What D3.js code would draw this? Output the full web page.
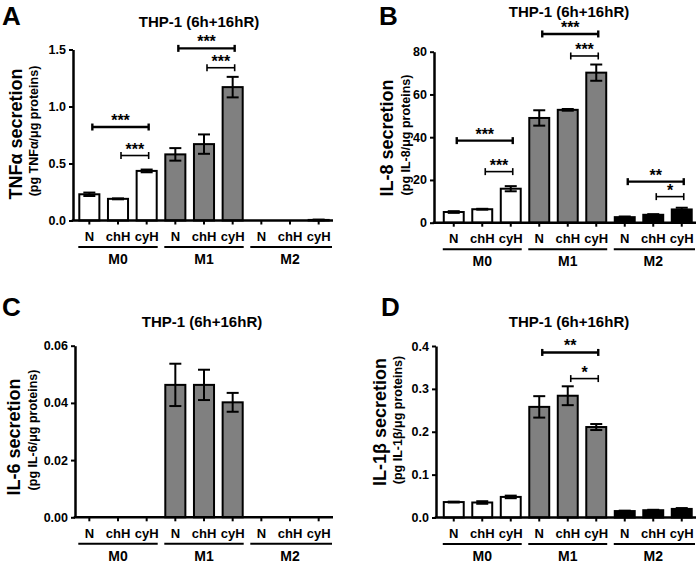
<!DOCTYPE html>
<html><head><meta charset="utf-8">
<script src="https://cdn.jsdelivr.net/npm/d3@7/dist/d3.min.js"></script>
<style>
body{margin:0;background:#fff}
text{font-family:"Liberation Sans",Arial,Helvetica,sans-serif;font-weight:bold;fill:#000}
</style>
</head><body><script>
// ---------- data ----------
const categories = ["N", "chH", "cyH"];
const groups = ["M0", "M1", "M2"];
const groupFill = ["#ffffff", "#808080", "#000000"];
const title = "THP-1 (6h+16hR)";

const tnfValues = [0.23, 0.19, 0.435, 0.58, 0.67, 1.17, 0, 0, 0.005];
const tnfErrors = [0.015, 0.004, 0.012, 0.055, 0.085, 0.09, 0, 0, 0.003];
const tnfTicks = [0, 0.5, 1.0, 1.5];
const tnfTickLabels = ["0.0", "0.5", "1.0", "1.5"];
const tnfSig = [
  {from: 0, to: 2, y: 0.82, label: "***"},
  {from: 1, to: 2, y: 0.57, label: "***"},
  {from: 3, to: 5, y: 1.51, label: "***"},
  {from: 4, to: 5, y: 1.34, label: "***"}
];

const il8Values = [5.0, 6.3, 15.9, 49, 52.8, 70.2, 2.6, 3.7, 6.2];
const il8Errors = [0.4, 0.2, 1.2, 3.6, 0.4, 3.8, 0.3, 0.3, 0.8];
const il8Ticks = [0, 20, 40, 60, 80];
const il8TickLabels = ["0", "20", "40", "60", "80"];
const il8Sig = [
  {from: 0, to: 2, y: 38.4, label: "***"},
  {from: 1, to: 2, y: 23.9, label: "***"},
  {from: 3, to: 5, y: 88.3, label: "***"},
  {from: 4, to: 5, y: 78, label: "***"},
  {from: 6, to: 8, y: 19.2, label: "**"},
  {from: 7, to: 8, y: 12.2, label: "*"}
];

const il6Values = [0, 0, 0, 0.0463, 0.0463, 0.0402, 0, 0, 0];
const il6Errors = [0, 0, 0, 0.0074, 0.0053, 0.0033, 0, 0, 0];
const il6Ticks = [0, 0.02, 0.04, 0.06];
const il6TickLabels = ["0.00", "0.02", "0.04", "0.06"];
const il6Sig = [];

const il1bValues = [0.036, 0.035, 0.048, 0.258, 0.284, 0.211, 0.015, 0.017, 0.02];
const il1bErrors = [0.001, 0.003, 0.003, 0.025, 0.022, 0.007, 0.001, 0.001, 0.002];
const il1bTicks = [0, 0.1, 0.2, 0.3, 0.4];
const il1bTickLabels = ["0.0", "0.1", "0.2", "0.3", "0.4"];
const il1bSig = [
  {from: 3, to: 5, y: 0.385, label: "**"},
  {from: 4, to: 5, y: 0.324, label: "*"}
];

// ---------- layout ----------
const panels = [
  {letter: "A", values: tnfValues, errors: tnfErrors, ticks: tnfTicks, tickLabels: tnfTickLabels, sig: tnfSig,
   label: "TNFα secretion", sub: "(pg TNFα/μg proteins)",
   axisX: 73, band: [75, 333], xEnd: 333, y0: 220.5, yTop: 49.5,
   letterPos: [2, 25], titlePos: [199, 27], labelPos: [22, 134], subPos: [38, 131]},
  {letter: "B", values: il8Values, errors: il8Errors, ticks: il8Ticks, tickLabels: il8TickLabels, sig: il8Sig,
   label: "IL-8 secretion", sub: "(pg IL-8/μg proteins)",
   axisX: 434, band: [439.5, 696], xEnd: 696, y0: 222.7, yTop: 51.7,
   letterPos: [379, 25], titlePos: [569, 17], labelPos: [393, 138], subPos: [410, 135]},
  {letter: "C", values: il6Values, errors: il6Errors, ticks: il6Ticks, tickLabels: il6TickLabels, sig: il6Sig,
   label: "IL-6 secretion", sub: "(pg IL-6/μg proteins)",
   axisX: 75, band: [75, 333], xEnd: 333, y0: 517.3, yTop: 345.7,
   letterPos: [2, 316], titlePos: [202, 327], labelPos: [20, 437], subPos: [37, 430]},
  {letter: "D", values: il1bValues, errors: il1bErrors, ticks: il1bTicks, tickLabels: il1bTickLabels, sig: il1bSig,
   label: "IL-1β secretion", sub: "(pg IL-1β/μg proteins)",
   axisX: 436, band: [439.5, 696], xEnd: 696, y0: 517.5, yTop: 346,
   letterPos: [381, 316], titlePos: [569, 327], labelPos: [386, 422], subPos: [402, 420]}
];

const svg = d3.select("body").append("svg").attr("width", 697).attr("height", 563);

panels.forEach(p => {
  const g = svg.append("g");
  const idx = d3.range(p.values.length);
  const x = d3.scaleBand().domain(idx).range(p.band).paddingInner(0.3).paddingOuter(0.15);
  const yMax = p.ticks[p.ticks.length - 1];
  const y = d3.scaleLinear().domain([0, yMax]).range([p.y0, p.yTop]);
  const cx = i => x(i) + x.bandwidth() / 2;

  // letter & title
  g.append("text").attr("x", p.letterPos[0]).attr("y", p.letterPos[1]).style("font-size", "26px").text(p.letter);
  g.append("text").attr("x", p.titlePos[0]).attr("y", p.titlePos[1]).attr("text-anchor", "middle").style("font-size", "15px").text(title);

  // y labels
  g.append("text").attr("transform", `translate(${p.labelPos[0]},${p.labelPos[1]}) rotate(-90)`)
    .attr("text-anchor", "middle").style("font-size", "18px").text(p.label);
  g.append("text").attr("transform", `translate(${p.subPos[0]},${p.subPos[1]}) rotate(-90)`)
    .attr("text-anchor", "middle").style("font-size", "12.5px").text(p.sub);

  // bars
  g.selectAll("rect.bar").data(idx.filter(i => p.values[i] > 0)).join("rect")
    .attr("class", "bar")
    .attr("x", i => x(i)).attr("width", x.bandwidth())
    .attr("y", i => y(p.values[i])).attr("height", i => y(0) - y(p.values[i]))
    .attr("fill", i => groupFill[Math.floor(i / 3)])
    .attr("stroke", "#000").attr("stroke-width", 2);

  // error bars
  const eb = g.selectAll("g.eb").data(idx.filter(i => p.errors[i] > 0)).join("g").attr("class", "eb")
    .attr("stroke", "#000").attr("stroke-width", 2);
  eb.append("line").attr("x1", cx).attr("x2", cx)
    .attr("y1", i => y(p.values[i] + p.errors[i])).attr("y2", i => y(Math.max(0, p.values[i] - p.errors[i])));
  eb.append("line").attr("x1", i => cx(i) - 6).attr("x2", i => cx(i) + 6)
    .attr("y1", i => y(p.values[i] + p.errors[i])).attr("y2", i => y(p.values[i] + p.errors[i]));
  eb.append("line").attr("x1", i => cx(i) - 6).attr("x2", i => cx(i) + 6)
    .attr("y1", i => y(Math.max(0, p.values[i] - p.errors[i]))).attr("y2", i => y(Math.max(0, p.values[i] - p.errors[i])));

  // y axis
  const yAxis = d3.axisLeft(y).tickValues(p.ticks).tickFormat((d, i) => p.tickLabels[i])
    .tickSizeInner(4).tickSizeOuter(0).tickPadding(3);
  const ya = g.append("g").attr("transform", `translate(${p.axisX},0)`).call(yAxis);
  ya.select(".domain").attr("stroke-width", 2.5);
  ya.selectAll(".tick line").attr("stroke-width", 2);
  ya.selectAll("text").style("font-size", "12.5px").style("font-family", null);

  // x axis
  const xAxis = d3.axisBottom(x).tickFormat(i => categories[i % 3]).tickSizeInner(4).tickSizeOuter(0).tickPadding(7.5);
  const xa = g.append("g").attr("transform", `translate(0,${p.y0})`).call(xAxis);
  xa.select(".domain").remove();
  xa.selectAll(".tick line").attr("stroke-width", 2);
  xa.selectAll("text").style("font-size", "13px").style("font-family", null);
  g.append("line").attr("x1", p.axisX - 1.25).attr("x2", p.xEnd).attr("y1", p.y0).attr("y2", p.y0)
    .attr("stroke", "#000").attr("stroke-width", 2.5);

  // group underlines and labels
  groups.forEach((gr, k) => {
    const x1 = x(k * 3), x2 = x(k * 3 + 2) + x.bandwidth();
    g.append("line").attr("x1", x1 - 1).attr("x2", k === 2 ? Math.max(x2 + 1, p.xEnd - 1) : x2 + 1)
      .attr("y1", p.y0 + 26.5).attr("y2", p.y0 + 26.5).attr("stroke", "#000").attr("stroke-width", 2);
    g.append("text").attr("x", cx(k * 3 + 1)).attr("y", p.y0 + 43.5).attr("text-anchor", "middle")
      .style("font-size", "14px").text(gr);
  });

  // significance brackets
  p.sig.forEach(s => {
    const wide = s.to - s.from > 1;
    const sw = wide ? 2.4 : 1.6;
    const xa1 = cx(s.from) + 3, xa2 = cx(s.to) + 2, yy = y(s.y);
    const bg = g.append("g").attr("stroke", "#000").attr("stroke-width", sw);
    bg.append("line").attr("x1", xa1).attr("x2", xa2).attr("y1", yy).attr("y2", yy);
    bg.append("line").attr("x1", xa1).attr("x2", xa1).attr("y1", yy - 3.5).attr("y2", yy + 3.5);
    bg.append("line").attr("x1", xa2).attr("x2", xa2).attr("y1", yy - 3.5).attr("y2", yy + 3.5);
    g.append("text").attr("x", (xa1 + xa2) / 2).attr("y", yy - 1).attr("text-anchor", "middle")
      .style("font-size", "16px").text(s.label);
  });
});
</script></body></html>
